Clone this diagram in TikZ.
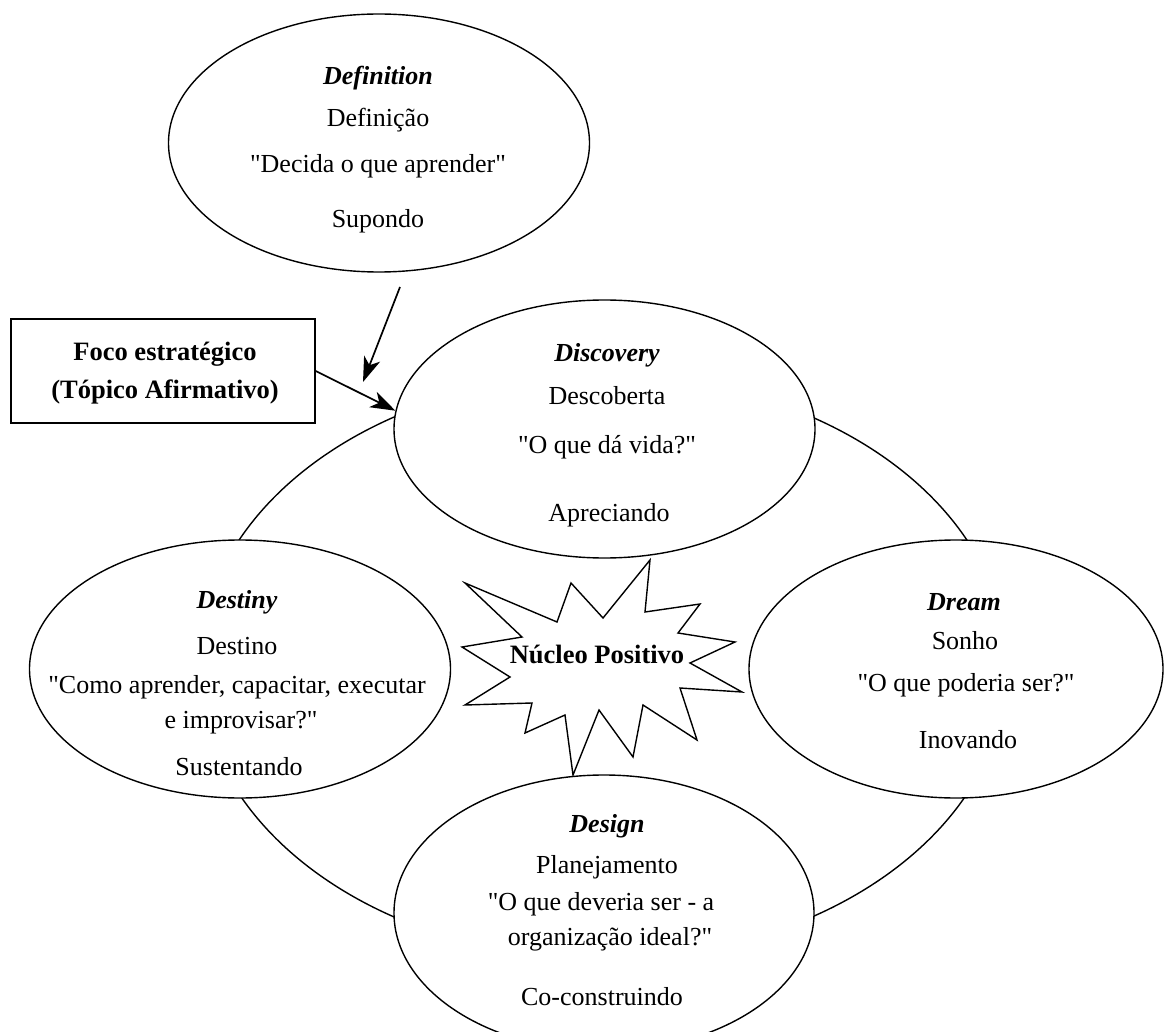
\documentclass[tikz,border=0pt]{standalone}
\usepackage{fontspec}
\setmainfont{Liberation Serif}[Ligatures=TeXOff]
\usetikzlibrary{shapes.geometric,arrows.meta}
\begin{document}
\begin{tikzpicture}[x=1pt,y=-1pt,
  phase/.style={ellipse,draw,fill=white,line width=1.4pt,minimum width=421pt,minimum height=258pt,inner sep=0pt},
  ttl/.style={anchor=base,font=\fontsize{26}{30}\selectfont\bfseries\itshape,inner sep=0pt},
  lbl/.style={anchor=base,font=\fontsize{26}{30}\selectfont,inner sep=0pt},
  bld/.style={anchor=base,font=\fontsize{26.5}{30}\selectfont\bfseries,inner sep=0pt},
  arr/.style={line width=1.7pt,-{Stealth[length=25pt,width=17pt,inset=7pt]}}]
\useasboundingbox (0,0) rectangle (1165,1032);
% outer cycle
\draw[line width=1.4pt] (603,667) ellipse [x radius=404, y radius=292];
% positive core star
\draw[line width=1.4pt,fill=white,line join=miter]
  (465,583) -- (557,622) -- (571,583) -- (603,618) -- (650,560) -- (645,612)
  -- (700,604) -- (678,633) -- (735,642) -- (690,663) -- (742,692) -- (680,688)
  -- (697,740) -- (643,705) -- (633,757) -- (599,710) -- (573,775) -- (565,715)
  -- (525,733) -- (532,703) -- (465,705) -- (510,677) -- (462,647) -- (522,637) -- cycle;
\node[bld] (core) at (597,663) {Núcleo Positivo};
% phase ellipses
\node[phase] (def) at (379,143) {};
\node[phase] (disc) at (604.5,429) {};
\node[phase] (dest) at (240,669) {};
\node[phase,minimum width=414pt] (dream) at (956,669) {};
\node[phase,minimum width=420pt,minimum height=276pt] (design) at (604,913) {};
% Definition
\node[ttl] (def1) at (378,85) {Definition};
\node[lbl] (def2) at (378,127) {Definição};
\node[lbl] (def3) at (378,173) {"Decida o que aprender"};
\node[lbl] (def4) at (378,228) {Supondo};
% Discovery
\node[ttl] (disc1) at (607,362) {Discovery};
\node[lbl] (disc2) at (607,404) {Descoberta};
\node[lbl] (disc3) at (607,453) {"O que dá vida?"};
\node[lbl] (disc4) at (609,521) {Apreciando};
% Destiny
\node[ttl] (dest1) at (237,608) {Destiny};
\node[lbl] (dest2) at (237,654) {Destino};
\node[lbl] (dest3) at (237,693) {"Como aprender, capacitar, executar};
\node[lbl] (dest4) at (241,728) {e improvisar?"};
\node[lbl] (dest5) at (239,775) {Sustentando};
% Dream
\node[ttl] (dream1) at (964,610) {Dream};
\node[lbl] (dream2) at (965,649) {Sonho};
\node[lbl] (dream3) at (966,691) {"O que poderia ser?"};
\node[lbl] (dream4) at (968,748) {Inovando};
% Design
\node[ttl] (des1) at (607,832) {Design};
\node[lbl] (des2) at (607,873) {Planejamento};
\node[lbl] (des3) at (601,910) {"O que deveria ser - a};
\node[lbl] (des4) at (610,945) {organização ideal?"};
\node[lbl] (des5) at (602,1005) {Co-construindo};
% strategic focus box
\node[draw,line width=1.5pt,minimum width=304pt,minimum height=104pt,inner sep=0pt] (foco) at (163,371) {};
\node[bld] (foco1) at (165,361) {Foco estratégico};
\node[bld] (foco2) at (165,398) {(Tópico Afirmativo)};
% arrows
\coordinate (a1s) at (400,287);
\coordinate (a1e) at (363,382);
\draw[arr] (a1s) -- (a1e);
\draw[arr] (foco.east) -- (disc.175.6);
\end{tikzpicture}
\end{document}
